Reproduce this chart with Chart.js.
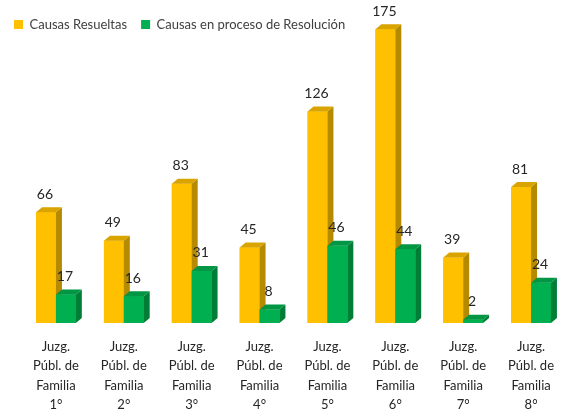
<!DOCTYPE html>
<html>
<head>
<meta charset="utf-8">
<script src="https://cdn.jsdelivr.net/npm/chart.js@4.4.1/dist/chart.umd.min.js"></script>
<style>
  html, body { margin: 0; padding: 0; background: #fff; }
  #wrap { width: 568px; height: 414px; }
</style>
</head>
<body>
<div id="wrap"><canvas id="c"></canvas></div>
<script>
// Causas por juzgado
const categories = [
  ["Juzg.", "Públ. de", "Familia", "1°"],
  ["Juzg.", "Públ. de", "Familia", "2°"],
  ["Juzg.", "Públ. de", "Familia", "3°"],
  ["Juzg.", "Públ. de", "Familia", "4°"],
  ["Juzg.", "Públ. de", "Familia", "5°"],
  ["Juzg.", "Públ. de", "Familia", "6°"],
  ["Juzg.", "Públ. de", "Familia", "7°"],
  ["Juzg.", "Públ. de", "Familia", "8°"],
];
const resueltas = [66, 49, 83, 45, 126, 175, 39, 81];
const enProceso = [17, 16, 31, 8, 46, 44, 2, 24];

const FONT = "Lato, 'DejaVu Sans', sans-serif";

// face colours for the fake 3D look: [front, side, top]
const shades = [
  ["#FFC000", "#B58A00", "#D9A300"],
  ["#00B050", "#007E38", "#009644"],
];
const DX = 6, DY = 5;

// Draw the bars as little boxes (front + right side + top) and their value labels.
const bars3d = {
  id: "bars3d",
  afterDatasetsDraw(chart) {
    const ctx = chart.ctx;
    const metas = [chart.getDatasetMeta(0), chart.getDatasetMeta(1)];
    ctx.save();
    for (let i = 0; i < categories.length; i++) {
      metas.forEach(function (meta, d) {
        const bar = meta.data[i];
        const w = bar.width;
        const l = bar.x - w / 2, r = bar.x + w / 2;
        const top = bar.y, base = bar.base;
        const c = shades[d];
        ctx.fillStyle = c[0];
        ctx.fillRect(l, top, w, base - top);
        ctx.fillStyle = c[1];
        ctx.beginPath();
        ctx.moveTo(r, top); ctx.lineTo(r + DX, top - DY);
        ctx.lineTo(r + DX, base - DY); ctx.lineTo(r, base);
        ctx.closePath(); ctx.fill();
        ctx.fillStyle = c[2];
        ctx.beginPath();
        ctx.moveTo(l, top); ctx.lineTo(l + DX, top - DY);
        ctx.lineTo(r + DX, top - DY); ctx.lineTo(r, top);
        ctx.closePath(); ctx.fill();
      });
    }
    ctx.fillStyle = "#262626";
    ctx.font = "14px " + FONT;
    ctx.textAlign = "center";
    ctx.textBaseline = "middle";
    metas.forEach(function (meta, d) {
      meta.data.forEach(function (bar, i) {
        const v = chart.data.datasets[d].data[i];
        ctx.fillText(String(v), bar.x - 1, bar.y - 18);
      });
    });
    ctx.restore();
  },
};

new Chart(document.getElementById("c"), {
  type: "bar",
  data: {
    labels: categories,
    datasets: [
      { label: "Causas Resueltas", data: resueltas, backgroundColor: shades[0][0], clip: false },
      { label: "Causas en proceso de Resolución", data: enProceso, backgroundColor: shades[1][0], clip: false },
    ],
  },
  options: {
    responsive: true,
    maintainAspectRatio: false,
    animation: false,
    layout: { padding: { top: 4, left: 0, right: 0, bottom: 0 } },
    datasets: { bar: { categoryPercentage: 0.586, barPercentage: 1.0 } },
    plugins: {
      legend: {
        position: "top",
        align: "start",
        labels: {
          boxWidth: 9, boxHeight: 9, padding: 14,
          color: "#404040",
          font: { family: FONT, size: 13 },
        },
      },
      tooltip: { enabled: false },
    },
    scales: {
      x: {
        grid: { display: false, drawTicks: false },
        border: { display: false },
        ticks: {
          color: "#262626", padding: 14, maxRotation: 0, autoSkip: false,
          font: { family: FONT, size: 13, lineHeight: 1.5 },
        },
        afterFit: function (s) { s.height = 91; },
      },
      y: {
        min: 0, max: 168,
        grid: { display: false },
        border: { display: false },
        ticks: { display: false },
        afterFit: function (s) { s.width = 22; },
      },
    },
  },
  plugins: [bars3d],
});
</script>
</body>
</html>
